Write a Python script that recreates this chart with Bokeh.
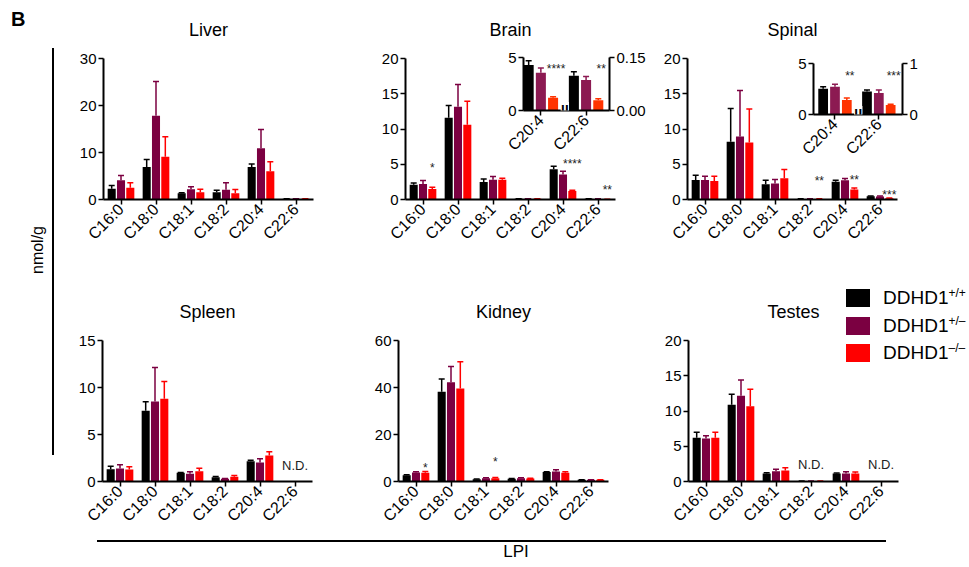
import math
import numpy as np
from bokeh.plotting import figure
from bokeh.models import (ColumnDataSource, FactorRange, Range1d, FixedTicker, LinearAxis,
                          NumeralTickFormatter, GridBox, Label, Div)
from bokeh.transform import dodge
from bokeh.core.properties import value
from bokeh.embed import file_html
from bokeh.resources import INLINE

FONT = "Liberation Sans"
nan = float("nan")

lipids = ["C16:0", "C18:0", "C18:1", "C18:2", "C20:4", "C22:6"]
inset_lipids = ["C20:4", "C22:6"]
genotypes = ["DDHD1+/+", "DDHD1+/–", "DDHD1–/–"]
geno_base = ["DDHD1", "DDHD1", "DDHD1"]
geno_sup = ["+/+", "+/–", "–/–"]
colors = ["#000000", "#7b0041", "#ff0000"]
inset_colors = ["#000000", "#8c1a52", "#ff3300"]

# ---- Liver (mean, SD) ----
liver_wt = [2.3, 6.9, 1.35, 1.55, 6.9, 0.15]
liver_wt_sd = [0.7, 1.6, 0.1, 0.4, 0.65, 0.02]
liver_het = [4.1, 17.8, 2.2, 2.05, 10.9, 0.15]
liver_het_sd = [1.0, 7.3, 0.5, 1.5, 4.0, 0.02]
liver_ko = [2.5, 9.1, 1.55, 1.35, 6.0, 0.15]
liver_ko_sd = [1.05, 4.25, 0.65, 0.8, 2.05, 0.02]

# ---- Brain ----
brain_wt = [2.1, 11.6, 2.5, 0.1, 4.3, 0.098]
brain_wt_sd = [0.25, 1.75, 0.4, 0.02, 0.4, 0.012]
brain_het = [2.2, 13.15, 2.8, 0.1, 3.55, 0.086]
brain_het_sd = [0.5, 3.15, 0.45, 0.02, 0.45, 0.01]
brain_ko = [1.5, 10.6, 2.8, 0.1, 1.2, 0.029]
brain_ko_sd = [0.25, 3.35, 0.2, 0.02, 0.1, 0.004]

# ---- Spinal ----
spinal_wt = [2.78, 8.2, 2.17, 0.08, 2.52, 0.45]
spinal_wt_sd = [0.66, 4.7, 0.57, 0.01, 0.2, 0.03]
spinal_het = [2.78, 8.92, 2.26, 0.08, 2.72, 0.42]
spinal_het_sd = [0.52, 6.55, 0.57, 0.01, 0.25, 0.06]
spinal_ko = [2.64, 8.07, 3.02, 0.08, 1.42, 0.185]
spinal_ko_sd = [0.66, 4.76, 1.23, 0.01, 0.2, 0.015]

# ---- Spleen ----
spleen_wt = [1.31, 7.52, 0.92, 0.46, 2.16, nan]
spleen_wt_sd = [0.32, 0.96, 0.05, 0.07, 0.11, nan]
spleen_het = [1.38, 8.51, 0.82, 0.28, 2.02, nan]
spleen_het_sd = [0.39, 3.62, 0.21, 0.04, 0.39, nan]
spleen_ko = [1.28, 8.79, 1.1, 0.5, 2.77, nan]
spleen_ko_sd = [0.28, 1.85, 0.32, 0.14, 0.39, nan]

# ---- Kidney ----
kidney_wt = [2.7, 38.2, 1.0, 1.14, 4.0, 0.71]
kidney_wt_sd = [0.15, 5.4, 0.1, 0.1, 0.1, 0.05]
kidney_het = [3.85, 42.2, 1.43, 1.43, 4.28, 0.7]
kidney_het_sd = [0.3, 6.7, 0.15, 0.15, 0.72, 0.05]
kidney_ko = [3.7, 39.6, 1.43, 1.28, 3.7, 0.7]
kidney_ko_sd = [0.57, 11.4, 0.27, 0.1, 0.43, 0.05]

# ---- Testes ----
testes_wt = [6.2, 10.9, 1.14, 0.05, 1.14, nan]
testes_wt_sd = [0.77, 1.47, 0.09, 0.01, 0.07, nan]
testes_het = [6.11, 12.18, 1.47, 0.05, 1.14, nan]
testes_het_sd = [0.38, 2.22, 0.28, 0.01, 0.23, nan]
testes_ko = [6.2, 10.66, 1.56, 0.05, 1.14, nan]
testes_ko_sd = [0.77, 2.44, 0.38, 0.01, 0.19, nan]

# significance marks: (lipid, genotype index, y value, text)
brain_stars = [("C16:0", 2, 4.95, "*"), ("C20:4", 2, 5.42, "****"), ("C22:6", 2, 1.74, "**")]
spinal_stars = [("C18:2", 2, 3.0, "**"), ("C20:4", 2, 3.18, "**"), ("C22:6", 2, 1.03, "***")]
kidney_stars = [("C16:0", 2, 6.84, "*"), ("C18:1", 2, 9.4, "*")]
brain_inset_stars = [("C20:4", 2, 4.21, "****"), ("C22:6", 2, 0.126, "**")]
spinal_inset_stars = [("C20:4", 2, 4.05, "**"), ("C22:6", 2, 0.81, "***")]
spleen_nd = [("C22:6", 1.73)]
testes_nd = [("C18:2", 2.47), ("C22:6", 2.47)]

OFFS = [-0.266, 0.0, 0.266]
BW = 0.23
IN_OFFS = [-0.27, 0.0, 0.27]
IN_BW = 0.222

W, H = 969, 567
# one common border for every figure, so the grid's frame alignment changes nothing
BL, BT, BR, BB = 50, 66, 40, 62


def style_axes(p):
    for ax in p.axis:
        ax.axis_line_width = 2
        ax.axis_line_color = "black"
        ax.major_tick_line_width = 1.5
        ax.major_tick_line_color = "black"
        ax.major_tick_in = 0
        ax.major_tick_out = 5
        ax.minor_tick_line_color = None
        ax.major_label_text_font = FONT
        ax.major_label_text_font_size = "15px"
        ax.major_label_text_color = "black"
        ax.major_label_standoff = 2
    for ax in p.xaxis:
        ax.major_label_text_font_size = "16px"
        ax.major_label_orientation = math.pi / 4


def base_fig(frame_left, frame_top, fw, fh, **kw):
    p = figure(frame_width=fw, frame_height=fh,
               min_border_left=BL, min_border_right=BR, min_border_top=BT,
               min_border_bottom=BB, output_backend="svg", toolbar_location=None,
               margin=(frame_top - BT, 0, 0, frame_left - BL), **kw)
    p.xgrid.visible = False
    p.ygrid.visible = False
    p.outline_line_color = None
    p.background_fill_color = None
    p.border_fill_color = None
    return p


def main_panel(title, series, ymax, step, frame_left, frame_top, stars=(), nd=()):
    p = base_fig(frame_left, frame_top, 210, 141, title=title,
                 x_range=FactorRange(factors=lipids, range_padding=0),
                 y_range=Range1d(0, ymax))
    for g in range(3):
        mean, sd = series[g]
        m = np.array(mean, dtype=float)
        src = ColumnDataSource(dict(lipid=lipids, mean=m, upper=m + np.array(sd, dtype=float)))
        x = dodge("lipid", OFFS[g], range=p.x_range)
        p.vbar(x=x, top="mean", width=BW, source=src, fill_color=colors[g], line_color=None)
        p.segment(x0=x, y0="mean", x1=x, y1="upper", source=src,
                  line_color=colors[g], line_width=1.5)
        p.scatter(x=x, y="upper", marker="dash", size=6, source=src,
                  line_color=colors[g], line_width=1.5)
    for g in range(3):
        sel = [s for s in stars if s[1] == g]
        if sel:
            ss = ColumnDataSource(dict(lipid=[s[0] for s in sel], y=[s[2] for s in sel],
                                       t=[s[3] for s in sel]))
            p.text(x=dodge("lipid", OFFS[g], range=p.x_range), y="y", text="t", source=ss,
                   text_align="center", text_baseline="middle", y_offset=3,
                   text_font=value(FONT), text_font_size="12px", text_color="#222222")
    if nd:
        ns = ColumnDataSource(dict(lipid=[n[0] for n in nd], y=[n[1] for n in nd],
                                   t=["N.D."] * len(nd)))
        p.text(x="lipid", y="y", text="t", source=ns, text_align="center",
               text_baseline="middle", text_font=value(FONT), text_font_size="13px",
               text_color="#222222")
    p.yaxis.ticker = FixedTicker(ticks=list(range(0, ymax + 1, step)))
    style_axes(p)
    p.title.text_font = FONT
    p.title.text_font_size = "18px"
    p.title.text_font_style = "normal"
    p.title.text_color = "black"
    p.title.align = "center"
    p.title.standoff = 38
    return p


def inset_panel(series, left_max, right_max, right_fmt, frame_left, frame_top, fw, fh,
                xlo, xhi, stars):
    p = base_fig(frame_left, frame_top, fw, fh, x_range=Range1d(xlo, xhi),
                 y_range=Range1d(0, left_max))
    p.extra_y_ranges = {"right": Range1d(0, right_max)}
    p.add_layout(LinearAxis(y_range_name="right", ticker=FixedTicker(ticks=[0, right_max]),
                            formatter=NumeralTickFormatter(format=right_fmt)), "right")
    for ci, cat in enumerate(inset_lipids):
        k = lipids.index(cat)
        rname = "default" if ci == 0 else "right"
        for g in range(3):
            mean, sd = series[g]
            src = ColumnDataSource(dict(pos=[ci], mean=[mean[k]], upper=[mean[k] + sd[k]]))
            x = dodge("pos", IN_OFFS[g])
            p.vbar(x=x, top="mean", width=IN_BW, source=src, fill_color=inset_colors[g],
                   line_color=None, y_range_name=rname)
            p.segment(x0=x, y0="mean", x1=x, y1="upper", source=src, y_range_name=rname,
                      line_color=inset_colors[g], line_width=1.5)
            p.scatter(x=x, y="upper", marker="dash", size=6, source=src, y_range_name=rname,
                      line_color=inset_colors[g], line_width=1.5)
        sel = [s for s in stars if s[0] == cat]
        for s in sel:
            ss = ColumnDataSource(dict(pos=[ci], y=[s[2]], t=[s[3]]))
            p.text(x=dodge("pos", IN_OFFS[s[1]]), y="y", text="t", source=ss,
                   y_range_name=rname, x_offset=3, y_offset=3,
                   text_align="center", text_baseline="middle",
                   text_font=value(FONT), text_font_size="12px", text_color="#222222")
    p.yaxis[0].ticker = FixedTicker(ticks=[0, left_max])
    p.xaxis.ticker = FixedTicker(ticks=list(range(len(inset_lipids))))
    p.xaxis.major_label_overrides = {i: c for i, c in enumerate(inset_lipids)}
    style_axes(p)
    brk = Label(x=0.53, y=0, text="||", text_align="center", text_baseline="middle",
                text_font=FONT, text_font_size="15px", text_font_style="bold",
                text_color="black", background_fill_color="white")
    p.add_layout(brk)
    return p


liver = main_panel("Liver", [(liver_wt, liver_wt_sd), (liver_het, liver_het_sd),
                             (liver_ko, liver_ko_sd)], 30, 10, 103, 58)
brain = main_panel("Brain", [(brain_wt, brain_wt_sd), (brain_het, brain_het_sd),
                             (brain_ko, brain_ko_sd)], 20, 5, 405, 58, stars=brain_stars)
spinal = main_panel("Spinal", [(spinal_wt, spinal_wt_sd), (spinal_het, spinal_het_sd),
                               (spinal_ko, spinal_ko_sd)], 20, 5, 687, 58, stars=spinal_stars)
spleen = main_panel("Spleen", [(spleen_wt, spleen_wt_sd), (spleen_het, spleen_het_sd),
                               (spleen_ko, spleen_ko_sd)], 15, 5, 102, 340, nd=spleen_nd)
kidney = main_panel("Kidney", [(kidney_wt, kidney_wt_sd), (kidney_het, kidney_het_sd),
                               (kidney_ko, kidney_ko_sd)], 60, 20, 398, 340, stars=kidney_stars)
testes = main_panel("Testes", [(testes_wt, testes_wt_sd), (testes_het, testes_het_sd),
                               (testes_ko, testes_ko_sd)], 20, 5, 688, 340, nd=testes_nd)

brain_in = inset_panel([(brain_wt, brain_wt_sd), (brain_het, brain_het_sd),
                        (brain_ko, brain_ko_sd)], 5, 0.15, "0.00", 523, 57, 86, 53,
                       -0.384, 1.518, brain_inset_stars)
spinal_in = inset_panel([(spinal_wt, spinal_wt_sd), (spinal_het, spinal_het_sd),
                         (spinal_ko, spinal_ko_sd)], 5, 1, "0", 813, 63, 89, 51,
                        -0.49, 1.54, spinal_inset_stars)

# ---- page background: panel letter, shared axis labels and the legend ----
legend_rows = ""
for i, (b, s, c) in enumerate(zip(geno_base, geno_sup, colors)):
    top = 289 + i * 27.5
    legend_rows += (
        f'<div style="position:absolute;left:846px;top:{top}px;width:24px;height:18px;'
        f'background:{c}"></div>'
        f'<div style="position:absolute;left:883px;top:{top - 3}px;height:24px;'
        f'line-height:24px;font-size:19px;white-space:nowrap">{b}'
        f'<span style="font-size:12px;position:relative;top:-7px">{s}</span></div>'
    )

html = f"""
<div style="position:relative;width:{W}px;height:{H}px;background:white;overflow:hidden;
 font-family:'{FONT}',Arial,sans-serif;color:black">
 <div style="position:absolute;left:11px;top:8px;font-size:20px;font-weight:bold;
  line-height:22px">B</div>
 <div style="position:absolute;left:52px;top:48px;width:1.5px;height:407px;
  background:black"></div>
 <div style="position:absolute;left:38px;top:250px;font-size:16px;white-space:nowrap;
  transform:translate(-50%,-50%) rotate(-90deg)">nmol/g</div>
 <div style="position:absolute;left:97px;top:540px;width:789px;height:1.5px;
  background:black"></div>
 <div style="position:absolute;left:516px;top:552px;font-size:17px;white-space:nowrap;
  transform:translate(-50%,-50%)">LPI</div>
 {legend_rows}
</div>
"""
bg = Div(text=html, width=W, height=H, margin=(0, 0, 0, 0))

children = [bg, liver, brain, spinal, spleen, kidney, testes, brain_in, spinal_in]
grid = GridBox(children=[(c, 0, 0) for c in children])

open("out.html", "w").write(file_html(grid, INLINE))
